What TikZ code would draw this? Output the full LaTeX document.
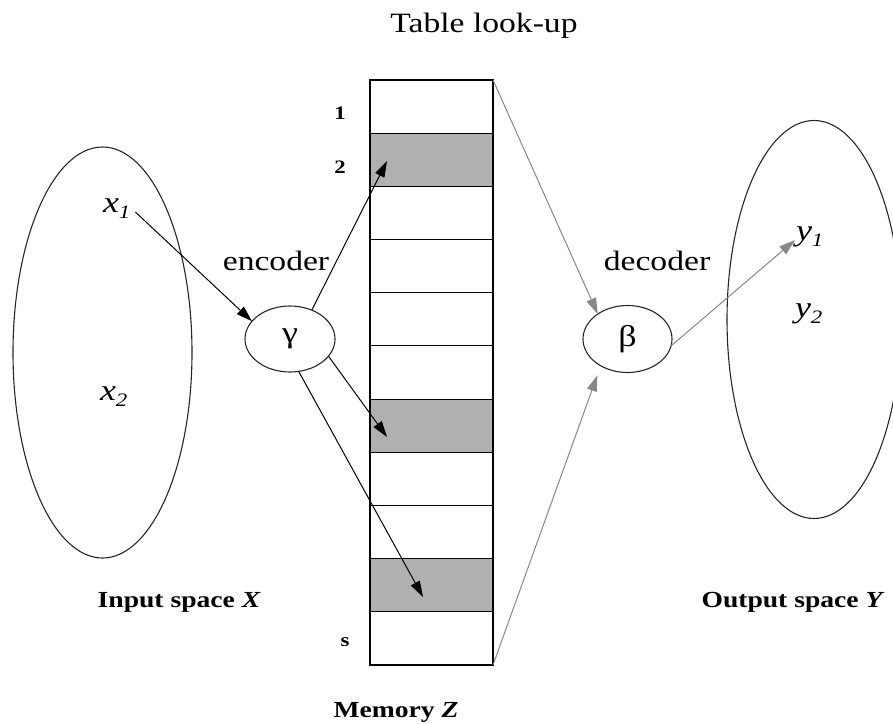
\documentclass[tikz,border=0pt]{standalone}
\usepackage{fontspec}
\setmainfont{Liberation Serif}[FakeStretch=1.2]
\usetikzlibrary{arrows.meta,shapes.geometric}

\definecolor{cellgray}{RGB}{176,176,176}
\definecolor{arrowgray}{RGB}{135,135,135}

\begin{document}
\begin{tikzpicture}[x=1pt,y=-1pt,
  every node/.style={inner sep=0pt, outer sep=0pt},
  spaceoval/.style={draw=black!85, line width=1.1pt, ellipse, inner sep=0pt},
  coder/.style={draw=black!85, line width=1.1pt, ellipse, minimum width=90pt,
                minimum height=66pt, font=\fontsize{30}{30}\selectfont},
  cell/.style={draw, line width=1.1pt, minimum width=123pt, minimum height=53.18pt},
  hitcell/.style={cell, fill=cellgray},
  enc/.style={-{Triangle[length=16pt,width=10pt]}, line width=1pt},
  dec/.style={color=arrowgray, -{Triangle[length=16pt,width=10pt]}, line width=1pt},
  lbl/.style={font=\fontsize{28}{30}\selectfont},
  caption/.style={font=\fontsize{23}{25}\selectfont\bfseries},
  idx/.style={font=\fontsize{19}{20}\selectfont\bfseries},
  var/.style={font=\fontsize{30}{30}\selectfont\itshape},
]
\path[use as bounding box, clip] (0,0) rectangle (893,723);

% title
\node[lbl, anchor=base] (title) at (484,32) {Table look-up};

% input and output spaces
\node[spaceoval, minimum width=179pt, minimum height=411pt] (X) at (102.5,352.5) {};
\node[spaceoval, minimum width=174pt, minimum height=398pt] (Y) at (814,319.5) {};

\node[var, anchor=base west] (x1) at (103,212) {x\raisebox{-6pt}{\fontsize{19}{19}\selectfont 1}};
\node[var, anchor=base west] (x2) at (100,400) {x\raisebox{-6pt}{\fontsize{19}{19}\selectfont 2}};
\node[var, anchor=base west] (y1) at (796,240) {y\raisebox{-6pt}{\fontsize{19}{19}\selectfont 1}};
\node[var, anchor=base west] (y2) at (795,317) {y\raisebox{-6pt}{\fontsize{19}{19}\selectfont 2}};

\node[caption, anchor=base] (capX) at (179,607) {Input space {\itshape X}};
\node[caption, anchor=base] (capY) at (792,607) {Output space {\itshape Y}};
\node[caption, anchor=base] (capZ) at (396,717) {Memory {\itshape Z}};

% encoder and decoder
\node[coder] (gamma) at (290,339) {γ};
\node[coder, minimum width=89pt, minimum height=67pt] (beta) at (627.5,339) {β};
\node[lbl, anchor=base] (enclbl) at (276,270) {encoder};
\node[lbl, anchor=base] (declbl) at (657,270) {decoder};

% memory table
\foreach \i in {1,...,11}{
  \pgfmathsetmacro{\cy}{80+53.18*(\i-0.5)}
  \ifnum\i=2 \def\cs{hitcell}\else\ifnum\i=7 \def\cs{hitcell}\else\ifnum\i=10 \def\cs{hitcell}\else\def\cs{cell}\fi\fi\fi
  \node[\cs] (c\i) at (431.5,\cy) {};
}
\node[idx, anchor=base] (n1) at (340,119) {1};
\node[idx, anchor=base] (n2) at (340,173) {2};
\node[idx, anchor=base] (ns) at (345,646) {s};

% arrow targets inside the selected cells
\coordinate (t2) at (387,161);
\coordinate (t7) at (387,437);
\coordinate (t10) at (423,597);

% encoding
\draw[enc] ([xshift=5pt]x1.base east) -- (gamma.155);
\draw[enc] (gamma.53) -- (t2);
\draw[enc] (gamma.-24) -- (t7);
\draw[enc] (gamma.-75) -- (t10);

% decoding
\draw[dec] (c1.north east) -- (beta.140);
\draw[dec, shorten >=10pt] (c11.south east) -- (beta.-135);
\draw[dec] (beta.-9) -- ([xshift=-1pt]y1.base west);
\end{tikzpicture}
\end{document}
